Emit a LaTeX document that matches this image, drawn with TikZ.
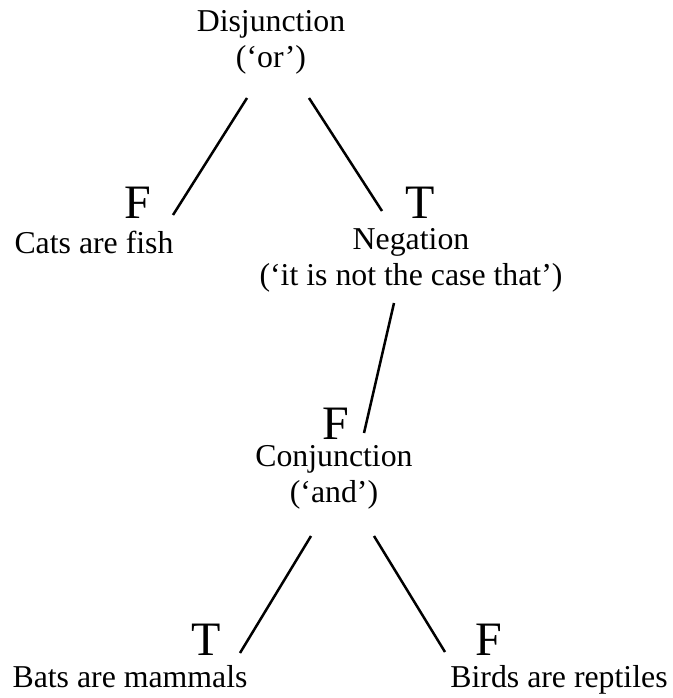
\documentclass[tikz,border=0pt]{standalone}
\usepackage{fontspec}
\setmainfont{Liberation Serif}
\begin{document}
\begin{tikzpicture}[x=1pt,y=-1pt,
  lbl/.style={inner sep=0pt, anchor=base, align=center, font=\fontsize{31.8}{36}\selectfont},
  tv/.style={inner sep=0pt, anchor=base, font=\fontsize{48}{50}\selectfont},
  edge/.style={line width=2.5pt, line cap=butt}]
\useasboundingbox (0,0) rectangle (672,698);
% nodes (anchor = baseline of the last line)
\node[lbl] (disj) at (271,68) {Disjunction\\(‘or’)};
\node[tv]  (f1) at (137.5,218) {F};
\node[lbl] (cats) at (94,253) {Cats are fish};
\node[tv]  (t1) at (420,218) {T};
\node[lbl] (neg) at (411,285) {Negation\\(‘it is not the case that’)};
\node[tv]  (f2) at (336,439) {F};
\node[lbl] (conj) at (334,502) {Conjunction\\(‘and’)};
\node[tv]  (t2) at (206.5,655) {T};
\node[lbl] (bats) at (130,687) {Bats are mammals};
\node[tv]  (f3) at (489,655) {F};
\node[lbl] (birds) at (559,687) {Birds are reptiles};
% connector end points
\coordinate (a1) at (247,98);
\coordinate (a2) at (173,215);
\coordinate (b1) at (309,98);
\coordinate (b2) at (382,211);
\coordinate (c1) at (394,303);
\coordinate (c2) at (364,433);
\coordinate (d1) at (311,536);
\coordinate (d2) at (240,653);
\coordinate (e1) at (374,536);
\coordinate (e2) at (445,652);
\draw[edge] (a1) -- (a2);
\draw[edge] (b1) -- (b2);
\draw[edge] (c1) -- (c2);
\draw[edge] (d1) -- (d2);
\draw[edge] (e1) -- (e2);
\end{tikzpicture}
\end{document}
